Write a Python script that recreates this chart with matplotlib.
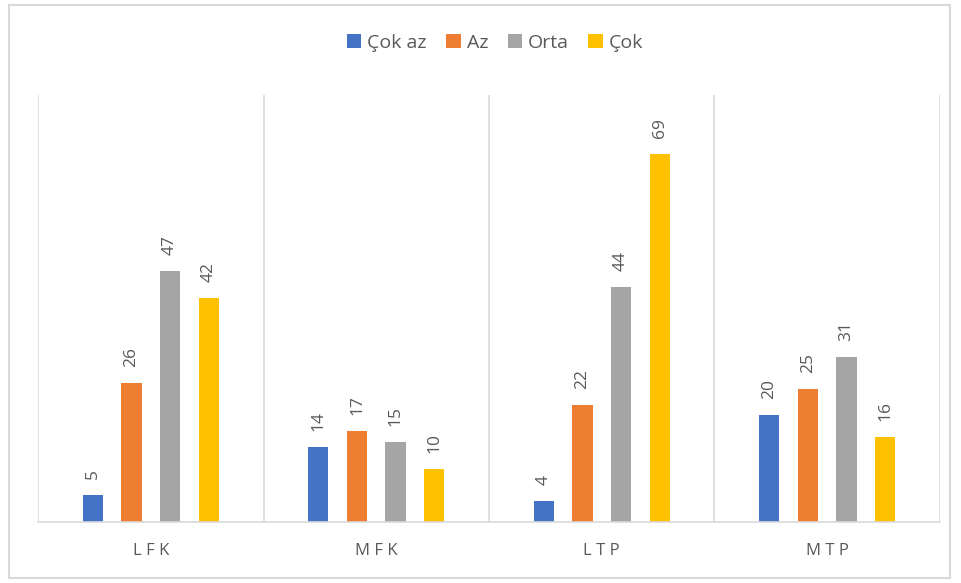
import matplotlib
matplotlib.use("Agg")
import matplotlib.pyplot as plt
from matplotlib.patches import Rectangle
import numpy as np

categories = ["L F K", "M F K", "L T P", "M T P"]
series_names = ["Çok az", "Az", "Orta", "Çok"]
cok_az = [5, 14, 4, 20]
az = [26, 17, 22, 25]
orta = [47, 15, 44, 31]
cok = [42, 10, 69, 16]
colors = ["#4472C4", "#ED7D31", "#A5A5A5", "#FFC000"]

plt.rcParams['font.family'] = ['Open Sans', 'DejaVu Sans']

fig = plt.figure(figsize=(9.61, 5.83), dpi=100)
fig.patches.append(Rectangle((9/961, 5/583), 941/961, 573/583, transform=fig.transFigure,
                             fill=False, edgecolor="#d9d9d9", linewidth=1.5))
ax = fig.add_axes([38/961, 61/583, 902/961, 427/583])

x = np.arange(len(categories))
width = 0.089
spacing = 0.171
all_series = [cok_az, az, orta, cok]
handles = []
for i, (vals, name, col) in enumerate(zip(all_series, series_names, colors)):
    pos = x + (i - 1.5) * spacing
    b = ax.bar(pos, vals, width, color=col, label=name)
    handles.append(b)
    for p, v in zip(pos, vals):
        ax.text(p, v + 3.0, str(v), rotation=90, ha="center", va="bottom",
                fontsize=12.5, color="#595959")

ax.set_xlim(-0.5, len(categories) - 0.5)
ax.set_ylim(0, 80)
ax.set_yticks([])
ax.set_xticks(x)
ax.set_xticklabels(categories, fontsize=12, color="#595959")
ax.tick_params(axis="x", length=0, pad=15)
for s in ["top", "right", "left"]:
    ax.spines[s].set_visible(False)
ax.spines["bottom"].set_color("#d9d9d9")
ax.spines["bottom"].set_linewidth(1.2)
for sep in np.arange(-0.5, len(categories), 1.0):
    ax.axvline(sep, color="#d9d9d9", linewidth=1.2, zorder=0)

fig.legend(handles=handles, labels=series_names, loc="center", bbox_to_anchor=(495/961, 1 - 43/583),
           ncol=4, frameon=False, fontsize=14, handlelength=0.75, handleheight=0.75,
           handletextpad=0.3, columnspacing=1.0, labelcolor="#595959")

fig.savefig("out.png", dpi=100)
